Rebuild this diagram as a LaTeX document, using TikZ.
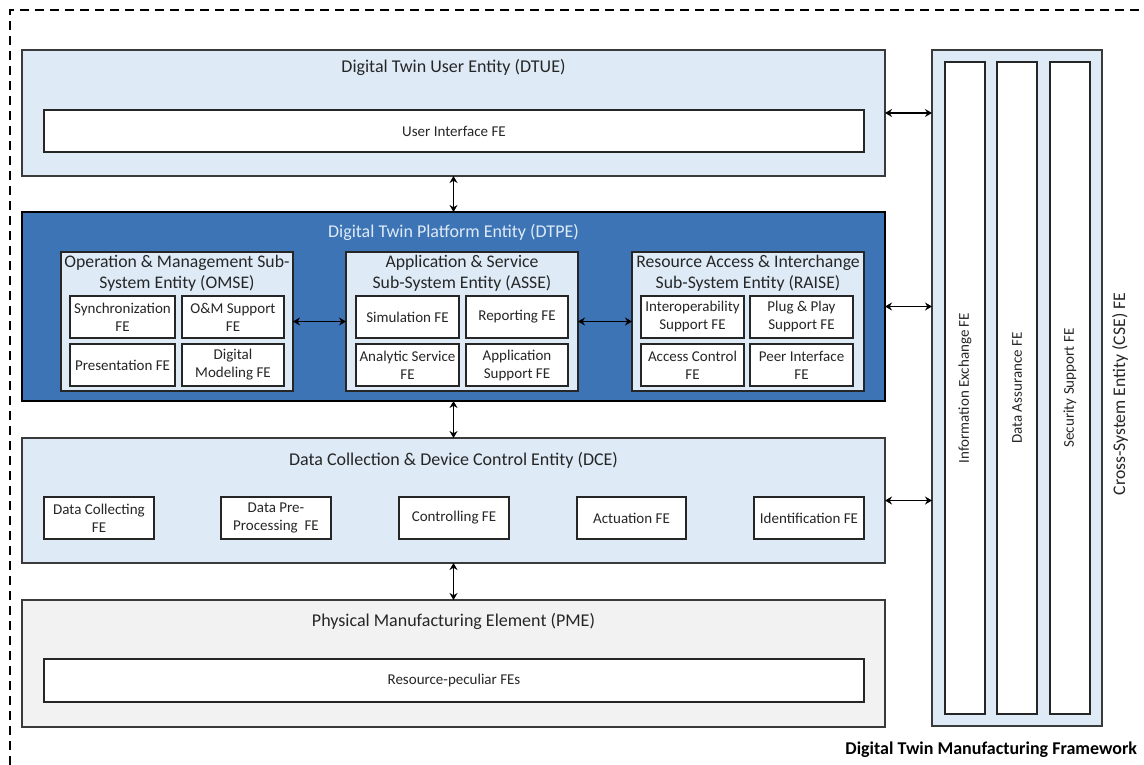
\documentclass[tikz,border=0pt]{standalone}
\usepackage{fontspec}
\setmainfont{Carlito}
\usetikzlibrary{arrows.meta}
\definecolor{paleblue}{HTML}{DEEBF7}
\definecolor{platblue}{HTML}{3D74B6}
\definecolor{palegray}{HTML}{F2F2F2}
\definecolor{edge}{HTML}{3A3A3A}
\definecolor{ink}{HTML}{262626}
\begin{document}
\begin{tikzpicture}[x=1pt,y=-1pt,
  every node/.style={inner sep=0pt, outer sep=0pt, text=ink},
  entity/.style={draw=edge, line width=1.1pt, anchor=north west, rectangle},
  subsys/.style={draw=black!85, line width=1.1pt, fill=paleblue, anchor=north west, minimum width=232, minimum height=139},
  fe/.style={draw=black!85, line width=1.1pt, fill=white, anchor=north west, align=center,
    font=\fontsize{15}{18}\selectfont},
  col/.style={draw=black!85, line width=1.1pt, fill=white, anchor=north west, minimum width=40, minimum height=652},
  title/.style={font=\fontsize{18}{21}\selectfont, align=center},
  subtitle/.style={font=\fontsize{17.7}{21}\selectfont, align=center},
  arr/.style={line width=1.8pt, {Stealth[length=7pt,width=8pt]}-{Stealth[length=7pt,width=8pt]}}
]
\useasboundingbox (0,0) rectangle (1144,765);
\fill[white] (0,0) rectangle (1144,765);

% outer framework boundary
\draw[line width=1.8pt, dash pattern=on 9pt off 6pt] (10,780) -- (10,10) -- (1160,10);

% user entity
\node[entity, fill=paleblue, minimum width=863, minimum height=126] (dtue) at (22,50) {};
\node[title] (dtuet) at (453.5,67) {Digital Twin User Entity (DTUE)};
\node[fe, minimum width=820, minimum height=42] (ui) at (44,110) {User Interface FE};

% platform entity
\node[entity, draw=black, line width=2pt, fill=platblue, minimum width=863, minimum height=189] (dtpe) at (22,212) {};
\node[title, text=paleblue] (dtpet) at (453.5,232) {Digital Twin Platform Entity (DTPE)};

\node[subsys] (omse) at (61,252) {};
\node[subtitle] (omset) at (177,273) {Operation \& Management Sub-\\System Entity (OMSE)};
\node[fe, minimum width=105, minimum height=42] (sync) at (70,296) {Synchronization\\FE};
\node[fe, minimum width=102, minimum height=42] (omsup) at (182,296) {O\&M Support\\FE};
\node[fe, minimum width=105, minimum height=42] (pres) at (70,344) {Presentation FE};
\node[fe, minimum width=102, minimum height=42] (dmod) at (182,344) {Digital\\Modeling FE};

\node[subsys] (asse) at (346,252) {};
\node[subtitle] (asset) at (462,273) {Application \& Service\\Sub-System Entity (ASSE)};
\node[fe, minimum width=103, minimum height=42] (sim) at (356,296) {Simulation FE};
\node[fe, minimum width=102, minimum height=42] (rep) at (466,296) {Reporting FE};
\node[fe, minimum width=103, minimum height=42] (anl) at (356,344) {Analytic Service\\FE};
\node[fe, minimum width=102, minimum height=42] (appsup) at (466,344) {Application\\Support FE};

\node[subsys] (raise) at (632,252) {};
\node[subtitle] (raiset) at (748,273) {Resource Access \& Interchange\\Sub-System Entity (RAISE)};
\node[fe, minimum width=103, minimum height=42] (interop) at (641,296) {Interoperability\\Support FE};
\node[fe, minimum width=103, minimum height=42] (plug) at (750,296) {Plug \& Play\\Support FE};
\node[fe, minimum width=103, minimum height=42] (acc) at (641,344) {Access Control\\FE};
\node[fe, minimum width=103, minimum height=42] (peer) at (750,344) {Peer Interface\\FE};

% data collection entity
\node[entity, fill=paleblue, minimum width=863, minimum height=125] (dce) at (22,438) {};
\node[title] (dcet) at (453.5,460) {Data Collection \& Device Control Entity (DCE)};
\node[fe, minimum width=110, minimum height=42] (dcol) at (44,497) {Data Collecting\\FE};
\node[fe, minimum width=110, minimum height=42] (dpre) at (221,497) {Data Pre-\\Processing~~FE};
\node[fe, minimum width=110, minimum height=42] (ctrl) at (399,497) {Controlling FE};
\node[fe, minimum width=109, minimum height=42] (act) at (577,497) {Actuation FE};
\node[fe, minimum width=110, minimum height=42] (ident) at (754,497) {Identification FE};

% physical element
\node[entity, fill=palegray, minimum width=863, minimum height=127] (pme) at (22,600) {};
\node[title] (pmet) at (453.5,621) {Physical Manufacturing Element (PME)};
\node[fe, minimum width=820, minimum height=43] (res) at (44,659) {Resource-peculiar FEs};

% cross-system entity
\node[entity, fill=paleblue, minimum width=170, minimum height=676] (cse) at (932,50) {};
\node[col] (infx) at (945,62) {};
\node[col] (dass) at (997,62) {};
\node[col] (secs) at (1050,62) {};
\node[rotate=90, font=\fontsize{15}{18}\selectfont] (infxt) at (965,388) {Information Exchange FE};
\node[rotate=90, font=\fontsize{15}{18}\selectfont] (dasst) at (1017,388) {Data Assurance FE};
\node[rotate=90, font=\fontsize{15}{18}\selectfont] (secst) at (1070,388) {Security Support FE};
\node[rotate=90, font=\fontsize{17.7}{21}\selectfont] (cset) at (1120,394) {Cross-System Entity (CSE) FE};

\node[anchor=east, font=\fontsize{18}{21}\selectfont\bfseries, text=black] (fw) at (1137,750) {Digital Twin Manufacturing Framework};

% connectors
\draw[arr] (dtue.south) -- (dtpe.north);
\draw[arr] (dtpe.south) -- (dce.north);
\draw[arr] (dce.south) -- (pme.north);
\draw[arr] (omse.east) -- (asse.west);
\draw[arr] (asse.east) -- (raise.west);
\draw[arr] (dtue.east) -- (dtue.east -| cse.west);
\draw[arr] (dtpe.east) -- (dtpe.east -| cse.west);
\draw[arr] (dce.east) -- (dce.east -| cse.west);
\end{tikzpicture}
\end{document}
